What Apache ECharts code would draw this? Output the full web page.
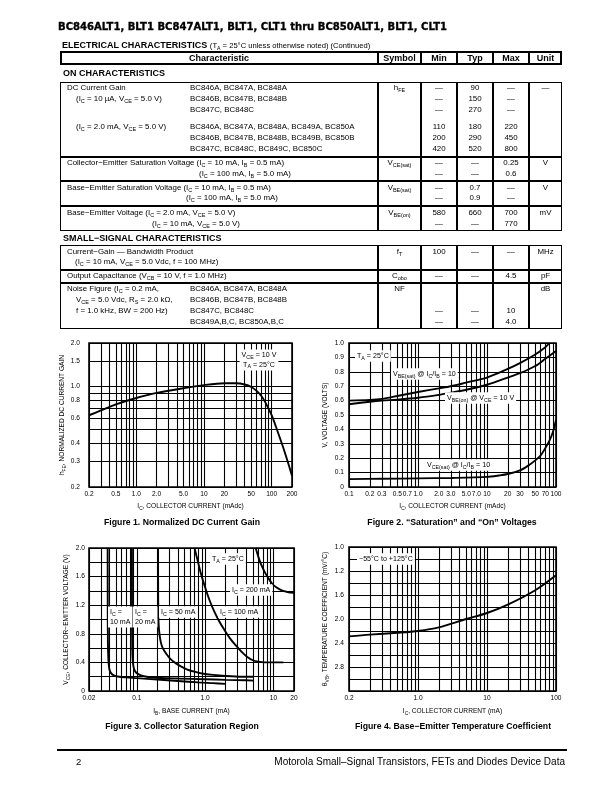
<!DOCTYPE html>
<html><head><meta charset="utf-8">
<script src="https://cdn.jsdelivr.net/npm/echarts@6/dist/echarts.min.js"></script>
<style>
body{margin:0;background:#fff;}
#page{position:relative;width:612px;height:792px;overflow:hidden;font-family:'Liberation Sans',Arial,sans-serif;color:#000;background:#fff;}
#chart{position:absolute;left:0;top:0;width:612px;height:792px;}
.t{position:absolute;white-space:nowrap;font-size:7.9px;line-height:10px;z-index:5;}
.t sub{font-size:5.5px;vertical-align:-1.7px;line-height:0;}
.ln{position:absolute;background:#000;z-index:4;}
.box{position:absolute;border:1.5px solid #000;box-sizing:border-box;z-index:4;}
</style></head>
<body><div id="page"><div id="chart"></div></div>
<script>
// ================= DATA =================
// Figure 1: normalized DC current gain vs collector current
const fig1Ic  = [0.2, 0.3, 0.5, 1, 2, 5, 10, 20, 30, 40, 50, 60, 70, 80, 100, 120, 150, 200];
const fig1Hfe = [0.63, 0.68, 0.75, 0.83, 0.9, 0.97, 1.02, 1.05, 1.05, 1.03, 0.99, 0.93, 0.86, 0.78, 0.63, 0.5, 0.37, 0.24];
const fig1XTicks = ['0.2','0.5','1.0','2.0','5.0','10','20','50','100','200'];
const fig1YTicks = ['0.2','0.3','0.4','0.6','0.8','1.0','1.5','2.0'];
const fig1YLines = [0.2,0.3,0.4,0.5,0.6,0.7,0.8,0.9,1.0,1.5,2.0];

// Figure 2: saturation and on voltages
const fig2IcSat  = [0.1, 0.2, 0.3, 0.5, 1, 2, 3, 5, 10, 20, 30, 50, 70, 80];
const fig2VbeSat = [0.60, 0.605, 0.612, 0.632, 0.66, 0.685, 0.70, 0.725, 0.76, 0.82, 0.86, 0.92, 0.97, 1.0];
const fig2IcOn   = [0.1, 0.2, 0.3, 0.5, 1, 2, 3, 5, 10, 20, 30, 50, 70, 100];
const fig2VbeOn  = [0.575, 0.592, 0.60, 0.607, 0.62, 0.64, 0.655, 0.675, 0.71, 0.76, 0.79, 0.84, 0.89, 0.945];
const fig2IcCe   = [0.1, 0.3, 1, 3, 10, 15, 20, 30, 40, 50, 60, 70, 80, 90, 100];
const fig2VceSat = [0.055, 0.057, 0.06, 0.063, 0.07, 0.08, 0.09, 0.115, 0.15, 0.185, 0.22, 0.27, 0.32, 0.38, 0.465];
const fig2XTicks = ['0.1','0.2','0.3','0.5','0.7','1.0','2.0','3.0','5.0','7.0','10','20','30','50','70','100'];
const fig2YTicks = ['0','0.1','0.2','0.3','0.4','0.5','0.6','0.7','0.8','0.9','1.0'];

// Figure 3: collector saturation region (IB mA, VCE V) per IC
const fig3Ib10  = [0.0375,0.0376,0.0378,0.0382,0.0388,0.0398,0.042,0.046,0.055,0.07,0.1,0.2,0.4,0.8,1.3,2.0];
const fig3Vce10 = [2.0,1.2,0.7,0.5,0.38,0.3,0.25,0.22,0.2,0.19,0.18,0.16,0.14,0.12,0.11,0.1];
const fig3Ib20  = [0.085,0.0852,0.0856,0.0864,0.0878,0.09,0.094,0.1,0.115,0.14,0.2,0.4,1.0,2.0,4.0,5.2];
const fig3Vce20 = [2.0,1.2,0.7,0.5,0.4,0.33,0.28,0.25,0.22,0.2,0.185,0.175,0.165,0.155,0.15,0.145];
const fig3Ib50  = [0.205,0.2055,0.207,0.21,0.216,0.225,0.24,0.27,0.31,0.37,0.45,0.55,0.7,0.9,1.3,2.0,3.5,5.2];
const fig3Vce50 = [2.0,1.4,1.1,0.9,0.78,0.68,0.6,0.52,0.45,0.39,0.34,0.3,0.27,0.245,0.225,0.21,0.2,0.2];
const fig3Ib100  = [0.7,0.78,0.87,1.0,1.15,1.35,1.6,1.9,2.3,2.8,3.4,4.1,5.0,6.0,7.5,10,14];
const fig3Vce100 = [2.0,1.82,1.64,1.45,1.28,1.12,0.98,0.86,0.74,0.64,0.55,0.48,0.43,0.41,0.4,0.4,0.4];
const fig3Ib200  = [5.5,6.0,6.6,7.4,8.4,9.6,11,13,16,20];
const fig3Vce200 = [2.0,1.88,1.77,1.67,1.58,1.5,1.45,1.41,1.385,1.375];
const fig3XTicks = ['0.02','0.1','1.0','10','20'];
const fig3YTicks = ['0','0.4','0.8','1.2','1.6','2.0'];

// Figure 4: base-emitter temperature coefficient
const fig4Ic    = [0.1, 0.2, 0.5, 1, 2, 5, 10, 20, 50, 100];
const fig4Theta = [2.29, 2.26, 2.23, 2.2, 2.14, 2.0, 1.9, 1.76, 1.52, 1.27];
const fig4XTickPos  = [0.1, 1, 10, 100];
const fig4XTickText = ['0.2','1.0','10','100'];
const fig4YTickPos  = [0.8, 1.2, 1.6, 2.0, 2.4, 2.8];
const fig4YTickText = ['1.0','1.2','1.6','2.0','2.4','2.8'];

// ================= PAGE TEXT / TABLE =================
const page = document.getElementById('page');
function T(x, y, html, o) {
  o = o || {};
  const d = document.createElement('div');
  d.className = 't';
  d.innerHTML = html;
  if (o.size) d.style.fontSize = o.size + 'px';
  if (o.bold) d.style.fontWeight = o.bold === true ? 'bold' : o.bold;
  if (o.fam) d.style.fontFamily = o.fam;
  if (o.stroke) d.style.webkitTextStroke = o.stroke + 'px #000';
  d.style.top = (y - 5) + 'px';
  d.style.left = x + 'px';
  page.appendChild(d);
  let w = d.getBoundingClientRect().width;
  if (o.fit) { d.style.transformOrigin = '0 50%'; d.style.transform = 'scaleX(' + (o.fit / w) + ')'; w = o.fit; }
  if (o.align === 'center') d.style.left = (x - w / 2) + 'px';
  if (o.align === 'right') d.style.left = (x - w) + 'px';
  return d;
}
function HL(x, y, w, h) { const d = document.createElement('div'); d.className = 'ln'; Object.assign(d.style, {left: x+'px', top: y+'px', width: w+'px', height: h+'px'}); page.appendChild(d); }
function BOX(y0, y1, bw) {
  const d = document.createElement('div'); d.className = 'box';
  Object.assign(d.style, {left: '60px', top: y0 + 'px', width: '502px', height: (y1 - y0) + 'px'});
  if (bw) d.style.borderWidth = bw + 'px';
  page.appendChild(d);
  colX.forEach(cx => HL(cx - 0.8, y0, 1.6, y1 - y0));
}
const colX = [378, 421, 457, 493, 529];
const cC = {sym: 399.5, min: 439, typ: 475, max: 511, unit: 545.5};
const sub = s => '<sub>' + s + '</sub>';
const IC = 'I' + sub('C'), IB = 'I' + sub('B'), VCE = 'V' + sub('CE');

T(58, 27, 'BC846ALT1, BLT1 BC847ALT1, BLT1, CLT1 thru BC850ALT1, BLT1, CLT1', {size: 11, bold: 900, fam: "'DejaVu Sans',sans-serif", stroke: 0.35, fit: 389});
T(62, 45, '<b style="font-size:9px">ELECTRICAL CHARACTERISTICS</b> <span style="font-size:7.6px">(T<sub style="font-size:5.2px">A</sub> = 25°C unless otherwise noted) (Continued)</span>', {size: 9});

BOX(51, 65, 2);
const HF = "'Liberation Sans Narrow','Liberation Sans',Arial,sans-serif";
T(219, 58, 'Characteristic', {bold: true, size: 9, fam: HF, align: 'center'});
T(cC.sym, 58, 'Symbol', {bold: true, size: 9, fam: HF, align: 'center'});
T(cC.min, 58, 'Min', {bold: true, size: 9, fam: HF, align: 'center'});
T(cC.typ, 58, 'Typ', {bold: true, size: 9, fam: HF, align: 'center'});
T(cC.max, 58, 'Max', {bold: true, size: 9, fam: HF, align: 'center'});
T(cC.unit, 58, 'Unit', {bold: true, size: 9, fam: HF, align: 'center'});

T(63, 73, 'ON CHARACTERISTICS', {bold: true, size: 9});
BOX(82, 156.5); BOX(156.5, 181); BOX(181, 206); BOX(206, 230.5);
T(63, 238, 'SMALL−SIGNAL CHARACTERISTICS', {bold: true, size: 9});
BOX(245, 269.5); BOX(269.5, 283); BOX(283, 329);

const rows = [
  // y, [[x, html]...], sym, min, typ, max, unit
  [88,  [[67,'DC Current Gain'],[190,'BC846A, BC847A, BC848A']], 'h' + sub('FE'), '—', '90', '—', '—'],
  [99,  [[76,'(' + IC + ' = 10 µA, ' + VCE + ' = 5.0 V)'],[190,'BC846B, BC847B, BC848B']], '', '—', '150', '—', ''],
  [110, [[190,'BC847C, BC848C']], '', '—', '270', '—', ''],
  [127, [[76,'(' + IC + ' = 2.0 mA, ' + VCE + ' = 5.0 V)'],[190,'BC846A, BC847A, BC848A, BC849A, BC850A']], '', '110', '180', '220', ''],
  [138, [[190,'BC846B, BC847B, BC848B, BC849B, BC850B']], '', '200', '290', '450', ''],
  [149, [[190,'BC847C, BC848C, BC849C, BC850C']], '', '420', '520', '800', ''],
  [163, [[67,'Collector−Emitter Saturation Voltage (' + IC + ' = 10 mA, ' + IB + ' = 0.5 mA)']], 'V' + sub('CE(sat)'), '—', '—', '0.25', 'V'],
  [174, [[199,'(' + IC + ' = 100 mA, ' + IB + ' = 5.0 mA)']], '', '—', '—', '0.6', ''],
  [188, [[67,'Base−Emitter Saturation Voltage (' + IC + ' = 10 mA, ' + IB + ' = 0.5 mA)']], 'V' + sub('BE(sat)'), '—', '0.7', '—', 'V'],
  [198, [[186,'(' + IC + ' = 100 mA, ' + IB + ' = 5.0 mA)']], '', '—', '0.9', '—', ''],
  [213, [[67,'Base−Emitter Voltage (' + IC + ' = 2.0 mA, ' + VCE + ' = 5.0 V)']], 'V' + sub('BE(on)'), '580', '660', '700', 'mV'],
  [224, [[152,'(' + IC + ' = 10 mA, ' + VCE + ' = 5.0 V)']], '', '—', '—', '770', ''],
  [252, [[67,'Current−Gain — Bandwidth Product']], 'f' + sub('T'), '100', '—', '—', 'MHz'],
  [262, [[75,'(' + IC + ' = 10 mA, ' + VCE + ' = 5.0 Vdc, f = 100 MHz)']], '', '', '', '', ''],
  [276, [[67,'Output Capacitance (V' + sub('CB') + ' = 10 V, f = 1.0 MHz)']], 'C' + sub('obo'), '—', '—', '4.5', 'pF'],
  [289, [[67,'Noise Figure (' + IC + ' = 0.2 mA,'],[190,'BC846A, BC847A, BC848A']], 'NF', '', '', '', 'dB'],
  [300, [[76,VCE + ' = 5.0 Vdc, R' + sub('S') + ' = 2.0 kΩ,'],[190,'BC846B, BC847B, BC848B']], '', '', '', '', ''],
  [311, [[76,'f = 1.0 kHz, BW = 200 Hz)'],[190,'BC847C, BC848C']], '', '—', '—', '10', ''],
  [322, [[190,'BC849A,B,C, BC850A,B,C']], '', '—', '—', '4.0', '']
];
rows.forEach(r => {
  const y = r[0];
  r[1].forEach(p => T(p[0], y, p[1]));
  ['sym','min','typ','max','unit'].forEach((k, i) => { if (r[2 + i]) T(cC[k], y, r[2 + i], {align: 'center'}); });
});

HL(57, 749, 510, 2.2);
T(76, 762, '2', {size: 9.5});
T(565, 762, 'Motorola Small–Signal Transistors, FETs and Diodes Device Data', {size: 10, align: 'right'});

// ================= CHARTS =================
const F = "'Liberation Sans',Arial,sans-serif";
const L = Math.log10;
function decadeLines(lo, hi) {
  const out = [];
  for (let k = -3; k <= 3; k++) for (let m = 1; m <= 9; m++) {
    const v = parseFloat((m * Math.pow(10, k)).toPrecision(3));
    if (v >= lo * 0.9999 && v <= hi * 1.0001) out.push(v);
  }
  return out;
}
function linLines(lo, hi, step) { const out = []; for (let v = lo; v <= hi + 1e-9; v += step) out.push(+v.toFixed(4)); return out; }
const RICH = {
  n: {fontSize: 6.6, fontFamily: F, color: '#000', lineHeight: 9},
  s: {fontSize: 4.9, fontFamily: F, color: '#000', lineHeight: 5, verticalAlign: 'bottom'}
};
const NRICH = {
  n: {fontSize: 7.1, fontFamily: F, color: '#000', lineHeight: 9.5},
  s: {fontSize: 5.3, fontFamily: F, color: '#000', lineHeight: 5.5, verticalAlign: 'bottom'}
};
function axis(o) {
  const f = o.log ? L : (v => v);
  const pos = o.labelPos.map(f);
  return {
    type: 'value', gridIndex: o.gi, min: f(o.min), max: f(o.max), inverse: !!o.inverse,
    axisLine: {show: false},
    axisTick: {show: false, customValues: o.lines.map(f)},
    splitLine: {show: true, lineStyle: {color: '#000', width: 1.1}},
    axisLabel: {
      customValues: pos, color: '#000', fontSize: 6.6, fontFamily: F, margin: o.margin,
      formatter: v => { let b = -1, bd = 1e9; pos.forEach((p, i) => { const d = Math.abs(p - v); if (d < bd) { bd = d; b = i; } }); return bd < 1e-4 ? o.labelText[b] : ''; }
    },
    name: o.name, nameLocation: 'middle', nameGap: o.nameGap,
    nameTextStyle: {color: '#000', fontSize: 6.6, fontFamily: F, rich: RICH}
  };
}
const pairs = (xs, ys, lx, ly) => xs.map((x, i) => [lx ? L(x) : x, ly ? L(ys[i]) : ys[i]]);
function line(xi, data) {
  return {type: 'line', xAxisIndex: xi, yAxisIndex: xi, data, symbol: 'none', smooth: 0.3,
          lineStyle: {color: '#000', width: 1.9}, silent: true, animation: false, clip: true};
}
const GRID = {show: true, borderColor: '#000', borderWidth: 1.6, backgroundColor: 'rgba(0,0,0,0)', containLabel: false};

const xAxes = [
  axis({gi: 0, log: true, min: 0.2, max: 200, lines: decadeLines(0.2, 200), labelPos: fig1XTicks.map(parseFloat), labelText: fig1XTicks, margin: 4,
        name: '{n|I}{s|C}{n|, COLLECTOR CURRENT (mAdc)}', nameGap: 15}),
  axis({gi: 1, log: true, min: 0.1, max: 100, lines: decadeLines(0.1, 100), labelPos: fig2XTicks.map(parseFloat), labelText: fig2XTicks, margin: 4,
        name: '{n|I}{s|C}{n|, COLLECTOR CURRENT (mAdc)}', nameGap: 15}),
  axis({gi: 2, log: true, min: 0.02, max: 20, lines: decadeLines(0.02, 20), labelPos: fig3XTicks.map(parseFloat), labelText: fig3XTicks, margin: 4,
        name: '{n|I}{s|B}{n|, BASE CURRENT (mA)}', nameGap: 16}),
  axis({gi: 3, log: true, min: 0.1, max: 100, lines: decadeLines(0.1, 100), labelPos: fig4XTickPos, labelText: fig4XTickText, margin: 4,
        name: '{n|I}{s|C}{n|, COLLECTOR CURRENT (mA)}', nameGap: 16})
];
const yAxes = [
  axis({gi: 0, log: true, min: 0.2, max: 2.0, lines: fig1YLines, labelPos: fig1YTicks.map(parseFloat), labelText: fig1YTicks, margin: 9,
        name: '{n|h}{s|FE}{n|, NORMALIZED DC CURRENT GAIN}', nameGap: 19}),
  axis({gi: 1, log: false, min: 0, max: 1.0, lines: linLines(0, 1, 0.1), labelPos: fig2YTicks.map(parseFloat), labelText: fig2YTicks, margin: 5,
        name: '{n|V, VOLTAGE (VOLTS)}', nameGap: 19}),
  axis({gi: 2, log: false, min: 0, max: 2.0, lines: linLines(0, 2, 0.2), labelPos: fig3YTicks.map(parseFloat), labelText: fig3YTicks, margin: 4,
        name: '{n|V}{s|CE}{n|, COLLECTOR−EMITTER VOLTAGE (V)}', nameGap: 18}),
  axis({gi: 3, log: false, min: 0.8, max: 3.2, inverse: true, lines: linLines(0.8, 3.2, 0.2), labelPos: fig4YTickPos, labelText: fig4YTickText, margin: 5,
        name: '{n|θ}{s|VB}{n|, TEMPERATURE COEFFICIENT (mV/°C)}', nameGap: 19})
];

function note(x, y, text, align) {
  return {type: 'text', x, y, z: 100,
          style: {text, rich: NRICH, fill: '#000', font: '7.1px ' + F, align: align || 'left', verticalAlign: 'middle',
                  backgroundColor: '#fff', padding: [1, 2, 1, 2]}};
}
function caption(x, y, text) {
  return {type: 'text', x, y, z: 100, style: {text, fill: '#000', font: 'bold 8.7px ' + F, align: 'center', verticalAlign: 'middle'}};
}

const option = {
  animation: false,
  backgroundColor: 'transparent',
  grid: [
    Object.assign({left: 89, top: 343, width: 203, height: 144}, GRID),
    Object.assign({left: 349, top: 343, width: 207, height: 144}, GRID),
    Object.assign({left: 89, top: 548, width: 205, height: 143}, GRID),
    Object.assign({left: 349, top: 547, width: 207, height: 144}, GRID)
  ],
  xAxis: xAxes,
  yAxis: yAxes,
  series: [
    line(0, pairs(fig1Ic, fig1Hfe, true, true)),
    line(1, pairs(fig2IcSat, fig2VbeSat, true, false)),
    line(1, pairs(fig2IcOn, fig2VbeOn, true, false)),
    line(1, pairs(fig2IcCe, fig2VceSat, true, false)),
    line(2, pairs(fig3Ib10, fig3Vce10, true, false)),
    line(2, pairs(fig3Ib20, fig3Vce20, true, false)),
    line(2, pairs(fig3Ib50, fig3Vce50, true, false)),
    line(2, pairs(fig3Ib100, fig3Vce100, true, false)),
    line(2, pairs(fig3Ib200, fig3Vce200, true, false)),
    line(3, pairs(fig4Ic, fig4Theta, true, false))
  ],
  graphic: [
    note(259, 360, '{n|V}{s|CE}{n| = 10 V}\n{n|T}{s|A}{n| = 25°C}', 'center'),
    note(355, 356, '{n|T}{s|A}{n| = 25°C}'),
    note(391, 374, '{n|V}{s|BE(sat)}{n| @ I}{s|C}{n|/I}{s|B}{n| = 10}'),
    note(445, 398, '{n|V}{s|BE(on)}{n| @ V}{s|CE}{n| = 10 V}'),
    note(425, 465, '{n|V}{s|CE(sat)}{n| @ I}{s|C}{n|/I}{s|B}{n| = 10}'),
    note(210, 559, '{n|T}{s|A}{n| = 25°C}'),
    note(230, 590, '{n|I}{s|C}{n| = 200 mA}'),
    note(108, 617, '{n|I}{s|C}{n| =}\n{n|10 mA}'),
    note(133, 617, '{n|I}{s|C}{n| =}\n{n|20 mA}'),
    note(159, 612, '{n|I}{s|C}{n| = 50 mA}'),
    note(218, 612, '{n|I}{s|C}{n| = 100 mA}'),
    note(357, 559, '{n|−55°C to +125°C}'),
    caption(182, 523, 'Figure 1. Normalized DC Current Gain'),
    caption(452, 523, 'Figure 2. “Saturation” and “On” Voltages'),
    caption(182, 727, 'Figure 3. Collector Saturation Region'),
    caption(453, 727, 'Figure 4. Base−Emitter Temperature Coefficient')
  ]
};
const chart = echarts.init(document.getElementById('chart'), null, {renderer: 'canvas'});
chart.setOption(option);
</script>
</body></html>
